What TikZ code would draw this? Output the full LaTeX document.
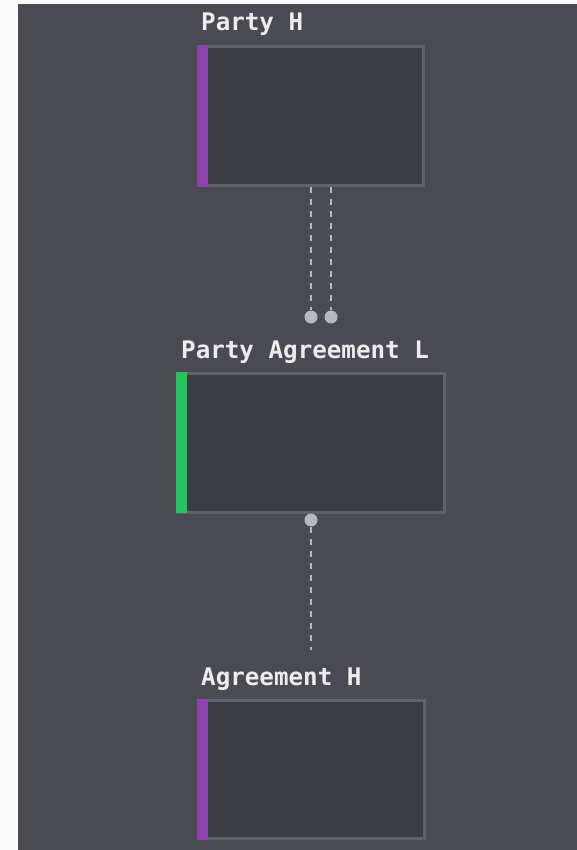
\documentclass[tikz,border=0pt]{standalone}
\usepackage{fontspec}
\setmonofont{DejaVu Sans Mono}
\definecolor{pagebg}{HTML}{FCFCFC}
\definecolor{canvas}{HTML}{4A4A53}
\definecolor{boxfill}{HTML}{3C3C45}
\definecolor{boxline}{HTML}{60616B}
\definecolor{lbl}{HTML}{EDEDED}
\definecolor{conn}{HTML}{B8B8C2}
\definecolor{purp}{HTML}{8E44AD}
\definecolor{grn}{HTML}{22C55E}
\tikzset{
  entity/.style={draw=boxline, line width=3pt, fill=boxfill, inner sep=0pt},
  title/.style={anchor=base west, inner sep=0pt, text=lbl, font=\ttfamily\bfseries\fontsize{24.2}{28}\selectfont},
  link/.style={draw=conn, line width=2pt, dash pattern=on 6pt off 6pt},
  enddot/.style={circle, fill=conn, inner sep=0pt, minimum size=13pt},
}
\begin{document}
\begin{tikzpicture}[x=1pt,y=-1pt]
\useasboundingbox (0,0) rectangle (577,850);
\fill[pagebg] (0,0) rectangle (577,850);
\fill[canvas] (18,4) rectangle (577,850);
% boxes
\node[entity, minimum width=225pt, minimum height=139pt] (ph) at (311,116) {};
\fill[purp] (197,45) rectangle (208,187);
\node[title] (phl) at (201,31) {Party H};

\node[entity, minimum width=267pt, minimum height=139pt] (pal) at (311,442.5) {};
\fill[grn] (176,372) rectangle (187,513);
\node[title] (pall) at (181,358) {Party Agreement L};

\node[entity, minimum width=226pt, minimum height=138pt] (ah) at (311,769.5) {};
\fill[purp] (197,699) rectangle (208,840);
\node[title] (ahl) at (201,685) {Agreement H};
% connectors
\node[enddot] (d1) at (311,317) {};
\node[enddot] (d2) at (331,317) {};
\draw[link] (ph.south -| d1) -- (d1);
\draw[link] (ph.south -| d2) -- (d2);
\node[enddot] (d3) at (311,520) {};
\coordinate (e3) at (311,650);
\draw[link] (d3) -- (e3);
\end{tikzpicture}
\end{document}
